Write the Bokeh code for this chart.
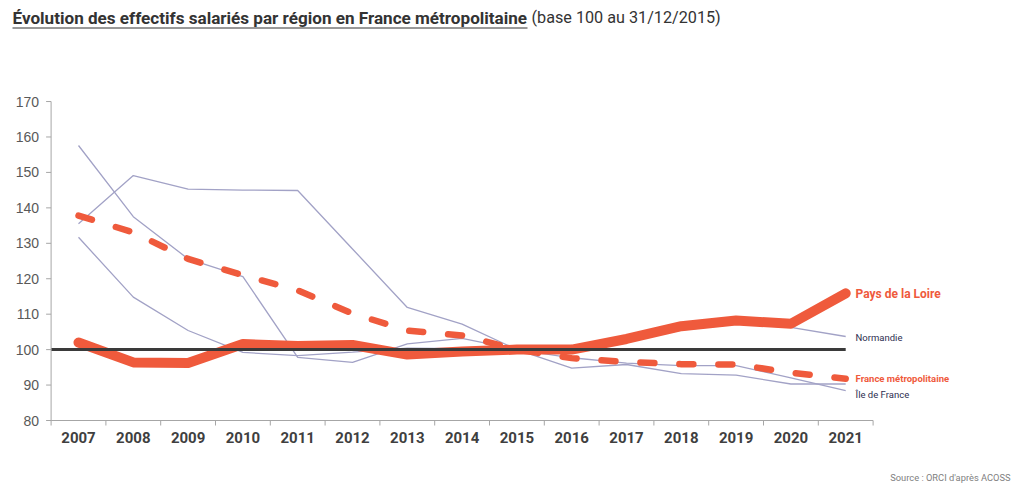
from bokeh.plotting import figure
from bokeh.models import Range1d
from bokeh.core.properties import value
from bokeh.embed import file_html
from bokeh.resources import INLINE

# ---- data ----
years = list(range(2007, 2022))
year_labels = [str(y) for y in years]
pays_de_la_loire = [102.0, 96.4, 96.2, 101.6, 101.0, 101.3, 98.6, 99.5, 100.0, 100.0, 103.0, 106.6, 108.2, 107.3, 115.9]
france_metropolitaine = [137.8, 133.1, 125.6, 121.0, 116.7, 110.2, 105.4, 104.0, 100.0, 97.6, 96.5, 95.9, 95.8, 93.5, 91.8]
normandie = [131.7, 114.8, 105.4, 99.2, 98.3, 99.3, 100.4, 100.3, 100.0, 100.0, 102.3, 105.5, 107.2, 106.3, 103.7]
ile_de_france = [157.6, 137.5, 125.6, 120.6, 97.8, 96.4, 101.6, 103.2, 100.0, 97.7, 96.2, 95.5, 95.5, 92.0, 88.4]
autre_region = [135.5, 149.1, 145.3, 145.0, 144.9, 128.4, 111.9, 107.2, 100.0, 94.8, 95.8, 93.2, 92.8, 90.3, 90.3]
y_ticks = list(range(80, 171, 10))
y_tick_labels = [str(t) for t in y_ticks]
base = 100

title_bold = "Évolution des effectifs salariés par région en France métropolitaine"
title_regular = "(base 100 au 31/12/2015)"
source_text = "Source : ORCI d'après ACOSS"
series_labels = ["Pays de la Loire", "Normandie", "France métropolitaine", "Île de France"]

ORANGE = "#EF5A3C"
THIN = "#A2A2C6"
AXIS = "#A6A6A6"
NAVY = "#2E2E50"

# ---- layout geometry (pixels) ----
W, H = 1024, 488
PX_X = 54.8           # px per year
PX_Y = 3.544          # px per index point
AXIS_LEFT_PX = 50.6   # canvas x of the value axis
AXIS_BOTTOM_PX = 420  # canvas y of the category axis

x0 = years[0] - 0.5
x_last = years[-1] + 0.5
x_start = x0 - AXIS_LEFT_PX / PX_X
x_end = x_start + W / PX_X
y_start = y_ticks[0] - (H - AXIS_BOTTOM_PX) / PX_Y
y_end = y_start + H / PX_Y


def sx(px):
    return x_start + px / PX_X


def sy(py):
    return y_end - py / PX_Y


p = figure(width=W, height=H, output_backend="svg", toolbar_location=None,
           x_range=Range1d(x_start, x_end), y_range=Range1d(y_start, y_end),
           x_axis_location=None, y_axis_location=None,
           min_border=0)
p.grid.visible = False
p.outline_line_color = None
p.background_fill_color = "white"
p.border_fill_color = "white"

# ---- series ----
for s in [autre_region, ile_de_france, normandie]:
    p.line(years, s, line_color=THIN, line_width=1.3)
p.line(years, france_metropolitaine, line_color=ORANGE, line_width=6.5,
       line_dash="14 25", line_cap="round")
p.line(years, pays_de_la_loire, line_color=ORANGE, line_width=10,
       line_cap="round", line_join="round")
p.line([x0, years[-1]], [base, base], line_color="#3A3A3A", line_width=3)

# ---- value axis ----
n_y = len(y_ticks)
p.segment(x0=[x0], y0=[y_ticks[0]], x1=[x0], y1=[y_ticks[-1]], line_color=AXIS, line_width=1)
p.segment(x0=[x0 - 5 / PX_X] * n_y, y0=y_ticks, x1=[x0] * n_y, y1=y_ticks,
          line_color=AXIS, line_width=1)
p.text(x=[x0 - 12 / PX_X] * n_y, y=y_ticks, text=y_tick_labels,
       text_font=value("Liberation Sans"), text_font_size="14px", text_color="#595959",
       text_align="right", text_baseline="middle")

# ---- category axis ----
edges = [y - 0.5 for y in years] + [x_last]
p.segment(x0=[x0], y0=[y_ticks[0]], x1=[x_last], y1=[y_ticks[0]], line_color=AXIS, line_width=1)
p.segment(x0=edges, y0=[y_ticks[0]] * len(edges), x1=edges,
          y1=[y_ticks[0] - 5 / PX_Y] * len(edges), line_color=AXIS, line_width=1)
p.text(x=years, y=[sy(437)] * len(years), text=year_labels,
       text_font=value("Roboto"), text_font_style="bold", text_font_size="15px",
       text_color="#3F3F3F", text_align="center", text_baseline="middle")

# ---- title ----
p.text(x=[sx(12)], y=[sy(17)], text=[title_bold], text_font=value("Roboto"),
       text_font_style="bold", text_font_size="17.1px", text_color="#333333",
       text_baseline="middle")
p.text(x=[sx(531)], y=[sy(17)], text=[title_regular], text_font=value("Roboto"),
       text_font_size="16.2px", text_color="#333333", text_baseline="middle")
p.segment(x0=[sx(12)], y0=[sy(27.5)], x1=[sx(527)], y1=[sy(27.5)], line_color="#333333", line_width=1)

# ---- series labels ----
lx = years[-1] + 0.18
p.text(x=[lx], y=[115.8], text=[series_labels[0]], text_font=value("Roboto"), text_font_style="bold",
       text_font_size="12px", text_color=ORANGE, text_baseline="middle")
p.text(x=[lx], y=[103.4], text=[series_labels[1]], text_font=value("Roboto"),
       text_font_size="9.5px", text_color=NAVY, text_baseline="middle")
p.text(x=[lx], y=[91.8], text=[series_labels[2]], text_font=value("Roboto"), text_font_style="bold",
       text_font_size="9.5px", text_color=ORANGE, text_baseline="middle")
p.text(x=[lx], y=[87.3], text=[series_labels[3]], text_font=value("Roboto"),
       text_font_size="9.5px", text_color=NAVY, text_baseline="middle")

# ---- source ----
p.text(x=[sx(1010)], y=[sy(477)], text=[source_text], text_font=value("Roboto"),
       text_font_size="9.3px", text_color="#808080", text_align="right", text_baseline="middle")

open("out.html", "w").write(file_html(p, INLINE))
